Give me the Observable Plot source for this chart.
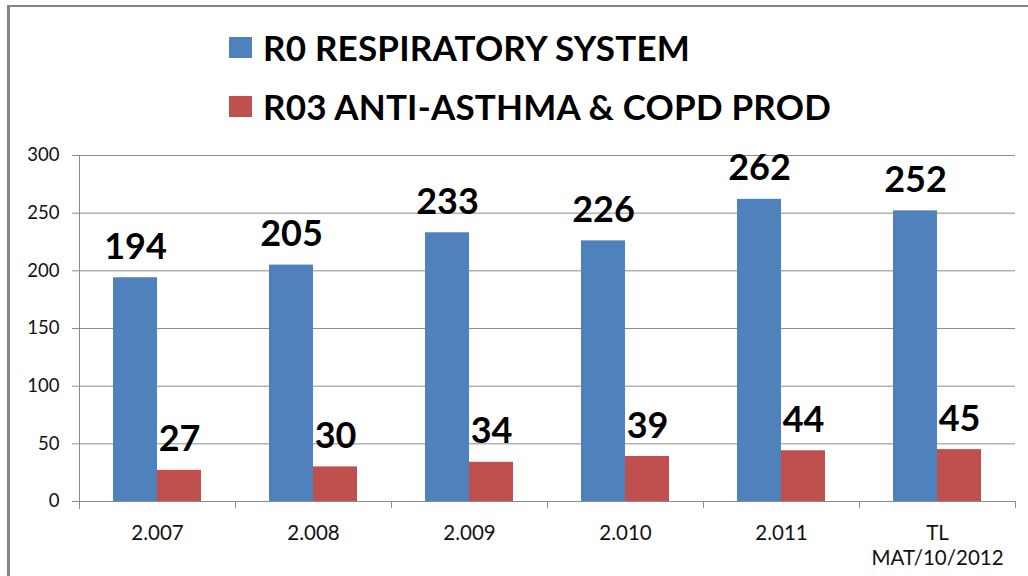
<!DOCTYPE html>
<html>
<head>
<meta charset="utf-8">
<script src="https://cdn.jsdelivr.net/npm/d3@7"></script>
<script src="https://cdn.jsdelivr.net/npm/@observablehq/plot@0.6"></script>
<style>
  html, body { margin: 0; padding: 0; background: #fff; }
  #wrap { position: relative; width: 1028px; height: 576px; overflow: hidden; font-family: Lato, "Open Sans", sans-serif; }
  #chart { position: absolute; left: 0; top: 0; z-index: 1; }
  #frame { position: absolute; left: 7px; top: 5px; right: -10px; bottom: -10px; border-left: 3px solid #868686; border-top: 2px solid #868686; z-index: 2; pointer-events: none; }
  #legend { position: absolute; left: 229px; top: 26px; z-index: 3; }
  .item { display: flex; align-items: center; height: 42px; margin-bottom: 17px; font-weight: 700; font-size: 35px; letter-spacing: 0.2px; color: #000; white-space: nowrap; }
  .sw { width: 23px; height: 21px; margin-right: 11px; flex: none; }
</style>
</head>
<body>
<div id="wrap">
  <div id="chart"></div>
  <div id="frame"></div>
  <div id="legend"></div>
</div>
<script>
const categories = ["2.007", "2.008", "2.009", "2.010", "2.011", "TL\nMAT/10/2012"];
const seriesNames = ["R0 RESPIRATORY SYSTEM", "R03 ANTI-ASTHMA & COPD PROD"];
const r0Values = [194, 205, 233, 226, 262, 252];
const r03Values = [27, 30, 34, 39, 44, 45];
const yTicks = [0, 50, 100, 150, 200, 250, 300];
const seriesColors = ["#4F81BD", "#C0504D"];

const data = categories.flatMap((cat, i) => [
  {cat, series: seriesNames[0], value: r0Values[i]},
  {cat, series: seriesNames[1], value: r03Values[i]}
]);

// Legend
const legend = document.getElementById("legend");
seriesNames.forEach((name, i) => {
  const item = document.createElement("div");
  item.className = "item";
  const sw = document.createElement("span");
  sw.className = "sw";
  sw.style.background = seriesColors[i];
  const label = document.createElement("span");
  label.textContent = name;
  item.appendChild(sw);
  item.appendChild(label);
  legend.appendChild(item);
});

const gray = "#8c8c8c";

const chart = Plot.plot({
  width: 1028,
  height: 576,
  marginTop: 155,
  marginBottom: 75,
  marginLeft: 79,
  marginRight: 13,
  style: {background: "transparent", fontFamily: "Lato, 'Open Sans', sans-serif", color: "#111", overflow: "visible"},
  fx: {domain: categories, padding: 0, label: null},
  x: {domain: seriesNames, paddingInner: 0, paddingOuter: 0.753, axis: null},
  y: {domain: [0, 300], label: null},
  color: {domain: seriesNames, range: seriesColors},
  marks: [
    Plot.ruleY(yTicks, {stroke: gray, strokeWidth: 1}),
    Plot.barY(data, {fx: "cat", x: "series", y: "value", fill: "series"}),
    Plot.text(data, {
      fx: "cat", x: "series", y: "value",
      text: d => String(d.value),
      dy: -19, lineAnchor: "bottom",
      fontSize: 36, fontWeight: "bold", fill: "#000"
    }),
    Plot.frame({anchor: "left", facetAnchor: "left", insetBottom: -7, stroke: gray}),
    Plot.axisY({ticks: yTicks, tickSize: 7, tickPadding: 13, fontSize: 18.5, stroke: gray, label: null}),
    Plot.axisFx({anchor: "bottom", tickSize: 7, tickFormat: () => "", dx: 78, stroke: gray, label: null}),
    Plot.axisFx({anchor: "bottom", tickSize: 0, tickPadding: 21, fontSize: 20.5, lineHeight: 1.2, label: null})
  ]
});

document.getElementById("chart").appendChild(chart);
</script>
</body>
</html>
